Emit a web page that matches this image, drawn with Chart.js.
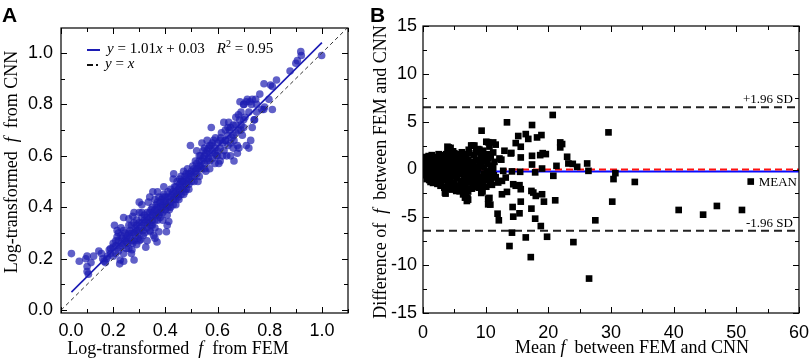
<!DOCTYPE html>
<html>
<head>
<meta charset="utf-8">
<script src="https://cdn.jsdelivr.net/npm/chart.js@4.4.0/dist/chart.umd.min.js"></script>
<style>
  html, body { margin: 0; padding: 0; background: #fff; }
  #wrap { position: relative; width: 809px; height: 361px; overflow: hidden; font-family: 'Liberation Serif', 'Times New Roman', serif; color: #000; }
  canvas { position: absolute; top: 0; }
  #chartA { left: 0; }
  #chartB { left: 365px; }
  .panel { position: absolute; font: bold 21px 'Liberation Sans', Arial, sans-serif; line-height: 21px; }
  .title { position: absolute; width: 340px; font-size: 18px; line-height: 20px; white-space: pre; text-align: center; }
  .rot { transform: rotate(-90deg); }
  .leg { position: absolute; font-size: 15px; line-height: 16px; white-space: pre; }
  .leg sup { font-size: 10px; line-height: 0; }
  .sw { display: inline-block; vertical-align: middle; margin-right: 7px; }
</style>
</head>
<body>
<div id="wrap">
  <canvas id="chartA" width="365" height="361"></canvas>
  <canvas id="chartB" width="453" height="361"></canvas>

  <div class="panel" style="left:2px; top:4px;">A</div>
  <div class="panel" style="left:370px; top:4px;">B</div>

  <div class="title" style="left:8px; top:338px;">Log-transformed  <i>f</i>  from FEM</div>
  <div class="title rot" style="left:-159px; top:152px;">Log-transformed  <i>f</i>  from CNN</div>
  <div class="title" style="left:462px; top:337px;">Mean <i>f</i>  between FEM and CNN</div>
  <div class="title rot" style="left:210px; top:162px;">Difference of  <i>f</i>  between FEM and CNN</div>

  <div class="leg" style="left:87px; top:40px;"><span class="sw" style="width:13px; border-top:2px solid #1c1cb4;"></span><i>y</i> = 1.01<i>x</i> + 0.03<span style="margin-left:12px;"><i>R</i><sup>2</sup> = 0.95</span></div>
  <div class="leg" style="left:87px; top:55px;"><span class="sw" style="width:6px; border-top:2px solid #111; margin-right:3px;"></span><span class="sw" style="width:2px; border-top:2px solid #111;"></span><i>y</i> = <i>x</i></div>
</div>

<script>
// Panel A: log-transformed f, [FEM, CNN]
const femCnnPairs = [
  [0.04,0.22],[0.07,0.19],[0.095,0.20],[0.10,0.21],[0.10,0.17],[0.10,0.15],[0.105,0.14],[0.115,0.185],[0.125,0.21],[0.145,0.23],
  [0.155,0.22],[0.165,0.19],[0.175,0.20],[0.178,0.21],[0.185,0.235],[0.19,0.24],[0.20,0.245],[0.16,0.20],[0.17,0.185],
  [0.205,0.33],[0.21,0.27],[0.215,0.285],[0.22,0.30],[0.215,0.31],[0.225,0.18],[0.227,0.195],[0.22,0.23],[0.21,0.25],[0.23,0.26],
  [0.24,0.22],[0.24,0.36],[0.235,0.25],[0.245,0.27],[0.25,0.265],[0.255,0.29],[0.26,0.355],[0.26,0.24],[0.265,0.31],[0.27,0.30],
  [0.272,0.235],[0.275,0.365],[0.28,0.195],[0.28,0.27],[0.285,0.32],[0.29,0.35],[0.29,0.255],[0.295,0.30],[0.30,0.42],[0.30,0.34],
  [0.20,0.26],[0.21,0.22],[0.225,0.245],[0.235,0.28],[0.245,0.30],[0.25,0.24],[0.255,0.26],[0.265,0.28],[0.27,0.33],[0.275,0.26],
  [0.28,0.30],[0.29,0.31],[0.295,0.28],[0.30,0.27],[0.30,0.38],
  [0.305,0.275],[0.31,0.41],[0.31,0.34],[0.315,0.31],[0.32,0.37],[0.32,0.35],[0.325,0.245],[0.33,0.32],[0.33,0.38],[0.335,0.42],
  [0.34,0.38],[0.34,0.34],[0.343,0.305],[0.345,0.36],[0.35,0.40],[0.35,0.37],[0.352,0.46],[0.355,0.29],[0.36,0.39],[0.36,0.35],
  [0.365,0.41],[0.368,0.265],[0.37,0.38],[0.37,0.42],[0.375,0.305],[0.375,0.44],[0.38,0.40],[0.38,0.36],[0.385,0.43],[0.39,0.41],
  [0.39,0.38],[0.394,0.48],[0.395,0.45],[0.40,0.42],[0.40,0.39],[0.31,0.36],[0.32,0.33],[0.33,0.36],[0.335,0.35],[0.345,0.39],
  [0.355,0.38],[0.365,0.37],[0.37,0.40],[0.38,0.42],[0.385,0.39],[0.39,0.44],[0.395,0.42],[0.36,0.43],[0.35,0.33],[0.39,0.35],
  [0.404,0.305],[0.407,0.33],[0.407,0.37],[0.41,0.44],[0.41,0.46],[0.413,0.345],[0.415,0.42],[0.42,0.47],[0.42,0.40],[0.425,0.45],
  [0.43,0.43],[0.432,0.53],[0.435,0.48],[0.44,0.46],[0.44,0.41],[0.445,0.50],[0.45,0.47],[0.452,0.43],[0.455,0.49],[0.46,0.52],
  [0.46,0.45],[0.465,0.50],[0.47,0.48],[0.47,0.54],[0.475,0.46],[0.48,0.51],[0.48,0.49],[0.485,0.55],[0.49,0.47],[0.49,0.51],
  [0.495,0.53],[0.496,0.64],[0.50,0.50],[0.42,0.44],[0.43,0.46],[0.445,0.45],[0.455,0.46],[0.46,0.48],[0.47,0.50],[0.475,0.52],
  [0.48,0.53],[0.49,0.49],[0.50,0.54],[0.415,0.39],[0.44,0.43],[0.465,0.47],[0.485,0.50],
  [0.505,0.56],[0.51,0.52],[0.51,0.55],[0.515,0.58],[0.52,0.53],[0.52,0.57],[0.525,0.50],[0.53,0.56],[0.53,0.60],[0.535,0.56],
  [0.535,0.60],[0.54,0.65],[0.54,0.58],[0.545,0.62],[0.55,0.57],[0.55,0.60],[0.555,0.54],[0.56,0.62],[0.56,0.66],[0.565,0.59],
  [0.57,0.61],[0.575,0.64],[0.576,0.71],[0.58,0.62],[0.58,0.59],[0.585,0.66],[0.59,0.63],[0.592,0.67],[0.595,0.60],[0.60,0.65],
  [0.515,0.54],[0.525,0.55],[0.545,0.59],[0.555,0.61],[0.565,0.63],[0.57,0.58],[0.59,0.61],[0.60,0.62],[0.55,0.63],[0.53,0.52],
  [0.605,0.57],[0.61,0.63],[0.612,0.67],[0.615,0.69],[0.62,0.65],[0.624,0.73],[0.63,0.66],[0.631,0.66],[0.635,0.60],[0.64,0.68],
  [0.643,0.73],[0.645,0.70],[0.65,0.71],[0.65,0.60],[0.655,0.67],[0.66,0.72],[0.663,0.66],[0.663,0.58],[0.67,0.69],[0.676,0.64],
  [0.676,0.61],[0.68,0.70],[0.682,0.63],[0.685,0.74],[0.69,0.72],[0.695,0.68],[0.70,0.80],[0.70,0.71],[0.625,0.62],[0.64,0.64],
  [0.66,0.68],[0.67,0.75],[0.69,0.70],
  [0.705,0.75],[0.71,0.81],[0.71,0.64],[0.714,0.82],[0.72,0.63],[0.724,0.81],[0.727,0.66],[0.733,0.82],[0.733,0.71],[0.74,0.74],
  [0.742,0.74],[0.746,0.82],[0.75,0.77],[0.762,0.84],[0.77,0.78],[0.777,0.78],[0.778,0.88],[0.78,0.79],[0.797,0.82],[0.803,0.875],
  [0.81,0.87],[0.81,0.78],[0.826,0.895],[0.878,0.93],[0.90,0.96],[0.906,0.97],[0.919,1.005],[0.921,0.99],[0.999,0.99],[0.686,0.81],
  [0.701,0.80],
  [0.22,0.27],[0.23,0.29],[0.24,0.31],[0.25,0.28],[0.26,0.30],[0.27,0.27],[0.28,0.34],[0.285,0.29],[0.29,0.33],[0.30,0.31],
  [0.31,0.32],[0.315,0.29],[0.32,0.30],[0.33,0.34],[0.34,0.31],[0.345,0.33],[0.35,0.35],[0.36,0.32],[0.37,0.35],[0.375,0.37],
  [0.38,0.38],[0.39,0.40],[0.40,0.44],[0.405,0.41],[0.41,0.40],[0.42,0.42],[0.43,0.41],[0.435,0.44],[0.44,0.48],[0.45,0.44],
  [0.455,0.51],[0.46,0.50],[0.47,0.45],[0.48,0.47],[0.49,0.53],[0.50,0.52],[0.51,0.50],[0.52,0.55],[0.53,0.58],[0.54,0.55],
  [0.55,0.55],[0.56,0.58],[0.57,0.64],[0.58,0.65],[0.59,0.57],[0.60,0.60],[0.61,0.66],[0.62,0.60],[0.63,0.70],[0.64,0.71],
  [0.65,0.65],[0.66,0.63],[0.67,0.72],[0.68,0.76],[0.69,0.77],[0.70,0.74],[0.72,0.77],[0.73,0.80],[0.75,0.80],[0.33,0.27],
  [0.36,0.28],[0.27,0.22],[0.24,0.19],[0.20,0.21],[0.19,0.22],[0.31,0.38],[0.28,0.38],[0.26,0.33],[0.23,0.32],[0.37,0.46],
  [0.34,0.44],[0.43,0.51],[0.52,0.62],[0.57,0.55],[0.61,0.58]
];
const fitLine = [[0.04, 0.07], [1.0, 1.04]];   // y = 1.01x + 0.03
const identityLine = [[0, 0], [1.1, 1.1]];     // y = x
const aTicks = [0, 0.2, 0.4, 0.6, 0.8, 1.0];

// Panel B: Bland-Altman, [mean f, difference]
const meanDiffPairs = [
  [0.3,0.2],[0.4,-0.3],[0.5,0.8],[0.5,-0.6],[0.6,0.1],[0.7,1.2],[0.7,-0.9],[0.8,0.5],[0.9,-0.2],[1.0,0.9],
  [1.0,-1.1],[1.1,0.3],[1.2,-0.5],[1.3,1.3],[1.3,0.0],[1.4,-0.8],[1.5,0.6],[1.6,-0.3],[1.7,1.0],[1.8,-1.2],
  [1.9,0.2],[2.0,0.7],[2.0,-0.6],[0.4,0.5],[0.6,-0.2],[0.9,0.3],[1.1,-0.4],[1.5,-0.1],[1.7,0.4],[0.8,-0.5],
  [2.1,1.3],[2.2,-0.2],[2.3,0.4],[2.4,-1.0],[2.5,1.1],[2.6,0.1],[2.7,-0.5],[2.8,0.8],[2.9,-1.4],[3.0,0.3],
  [3.1,1.4],[3.2,-0.8],[3.3,0.6],[3.4,-0.2],[3.5,1.0],[3.6,-1.1],[3.7,0.2],[3.8,-0.6],[3.9,1.7],[4.0,0.5],
  [4.0,-1.5],[2.4,0.6],[2.6,-1.2],[3.0,-0.3],[3.3,1.1],[3.6,0.7],[3.8,-1.8],[2.2,0.9],[3.2,0.0],[3.5,-0.5],
  [4.1,2.3],[4.2,-0.3],[4.3,0.9],[4.4,-1.0],[4.5,1.4],[4.6,-2.1],[4.7,0.2],[4.8,-0.7],[4.9,1.1],[5.0,-1.4],
  [5.1,0.6],[5.2,-0.1],[5.3,1.6],[5.4,-0.9],[5.5,0.3],[5.6,-1.7],[5.7,0.8],[5.8,-0.4],[5.9,1.2],[6.0,-1.2],
  [4.3,-1.6],[4.7,1.8],[5.0,0.0],[5.5,-2.2],[5.8,0.5],[4.5,0.4],[5.2,1.0],[6.0,0.2],
  [6.1,1.5],[6.2,-0.5],[6.3,0.7],[6.4,-2.6],[6.5,0.1],[6.6,-1.0],[6.7,1.3],[6.8,-1.8],[6.9,0.4],[7.0,-0.7],
  [7.1,-3.0],[7.2,1.0],[7.3,-1.3],[7.4,0.3],[7.5,-2.0],[7.6,0.8],[7.7,2.5],[7.8,-0.9],[7.9,-1.5],[8.0,0.6],
  [6.5,1.1],[7.0,0.6],[7.5,-0.2],[8.0,-1.7],[6.8,0.9],[7.3,0.1],
  [8.2,2.5],[8.3,-0.3],[8.5,1.0],[8.6,-1.2],[8.8,0.2],[8.9,-0.8],[9.0,0.7],[9.2,-1.7],[9.3,0.4],[9.5,-2.3],
  [9.6,1.4],[9.7,-0.5],[9.9,-1.1],[10.0,0.9],[10.2,-0.2],[10.4,1.2],[10.5,-0.9],[10.7,-1.3],[10.9,0.4],[11.1,-0.1],
  [11.3,-0.6],[11.6,-0.8],[8.4,-0.6],[9.1,1.9],[9.8,0.2],[10.6,2.4],[11.0,-1.6],
  [0.5,1.3],[0.6,-1.0],[0.9,1.4],[1.2,-1.3],[1.4,1.5],[1.6,-1.4],[2.3,-1.5],[2.5,1.6],[2.8,-1.7],[3.0,1.5],
  [3.4,-1.9],[3.7,1.6],[4.2,-2.0],[4.4,1.8],[4.8,-1.9],[5.0,1.7],[5.3,-2.0],[5.6,1.5],[6.0,-2.0],[6.2,1.8],
  [6.6,-2.2],[6.9,1.6],[7.2,-2.3],[7.4,1.7],[7.8,-2.0],[8.1,1.5],[8.3,-1.8],[8.6,1.8],[8.9,-1.9],[9.0,2.08],
  [8.5,2.0],[9.2,1.2],[9.4,-1.3],[9.7,1.0],[10.1,-1.8],[10.3,0.6],[10.5,-0.4],[10.8,1.38],[10.8,-1.0],[11.4,0.8],
  [11.6,2.6],[10.4,2.85],[8.0,2.5],[4.8,1.9],[4.4,2.26],[3.6,-2.52],[5.85,-2.28],[7.2,-3.15],[6.9,-2.8],[9.3,-2.45],
  [9.57,-1.75],[10.6,-2.97],[10.75,-3.67],[12.5,1.03],[14.1,1.73],[6.4,-1.4],[6.7,-0.3],[7.1,0.0],[7.7,-0.5],[8.2,-1.0],
  [8.7,-0.3],[9.4,0.9],[9.9,-0.6],[10.2,1.6],[11.2,0.2],[8.1,0.3],[6.3,0.0],[5.4,0.5],[4.9,-0.4],[3.8,0.4],
  [2.5,-0.1],[1.2,0.7],
  [20.7,5.7],[13.4,4.93],[9.35,4.06],[29.6,3.88],[17.4,4.65],[16.4,3.7],[15.2,3.5],[16.8,3.2],[18.2,3.35],[18.9,3.6],
  [14.8,2.76],[15.6,2.38],[11.2,2.83],[10.1,2.9],[9.6,1.96],[8.8,2.13],[7.7,2.48],[7.3,2.06],[3.9,2.38],[21.9,2.83],
  [22.2,2.66],[21.9,2.31],[13.0,1.96],[11.2,1.78],[14.0,1.68],[15.6,1.26],[17.4,1.43],[18.7,1.5],[19.1,1.71],[19.6,1.61],
  [12.2,1.15],[23.0,1.33],[17.4,0.52],[19.0,0.1],[21.3,0.38],[23.2,0.63],[23.9,0.59],[24.6,0.28],[26.2,0.63],[26.4,-0.14],
  [30.7,-0.38],[30.4,-1.0],[33.8,-1.3],[52.3,-1.26],[20.8,-0.66],[15.5,-0.24],[14.2,-0.2],[12.8,-0.14],[17.9,-0.3],[13.2,-0.84],
  [12.6,-1.19],[12.0,-1.36],[11.2,-0.84],[14.4,-1.54],[14.8,-1.7],[15.4,-1.64],[15.6,-2.06],[13.4,-2.34],[12.6,-2.59],[17.3,-2.24],
  [17.6,-2.41],[18.0,-2.76],[19.0,-2.59],[19.3,-3.36],[21.1,-3.22],[15.6,-3.36],[30.2,-3.36],[10.4,-3.04],[10.4,-3.64],[7.0,-3.29],
  [6.7,-2.94],[3.5,-2.41],[5.3,-2.24],[14.3,-3.92],[15.4,-4.58],[14.4,-4.93],[11.9,-4.62],[12.1,-5.31],[17.3,-4.09],[17.9,-5.14],
  [18.8,-5.91],[14.2,-6.6],[16.4,-7.1],[19.8,-7.03],[13.8,-8.0],[17.2,-9.16],[24.0,-7.59],[26.5,-11.4],[27.5,-5.31],[40.8,-4.23],
  [44.7,-4.72],[46.9,-3.81],[50.9,-4.23]
];
const meanDiff = -0.2;
const zeroDiff = 0;
const upperSd = 6.5;
const lowerSd = -6.4;
const bXTicks = [0, 10, 20, 30, 40, 50, 60];
const bYTicks = [-15, -10, -5, 0, 5, 10, 15];

const toXY = pairs => pairs.map(p => ({ x: p[0], y: p[1] }));
const tickFont = { family: "'Liberation Sans', Arial, sans-serif", size: 18 };

// frame on four sides with inward major/minor ticks
const frameTicks = {
  id: 'frameTicks',
  afterDraw(chart, args, opts) {
    const { ctx, chartArea: a, scales: { x, y } } = chart;
    ctx.save();
    ctx.strokeStyle = '#000';
    ctx.lineWidth = 1.2;
    ctx.strokeRect(a.left, a.top, a.right - a.left, a.bottom - a.top);
    ctx.lineWidth = 1;
    ctx.beginPath();
    for (let i = Math.ceil(x.min / opts.xStep); i * opts.xStep <= x.max + 1e-9; i++) {
      const px = Math.round(x.getPixelForValue(i * opts.xStep)) + 0.5;
      const len = i % 2 === 0 ? 6 : 4;
      ctx.moveTo(px, a.bottom); ctx.lineTo(px, a.bottom - len);
      ctx.moveTo(px, a.top); ctx.lineTo(px, a.top + len);
    }
    for (let i = Math.ceil(y.min / opts.yStep); i * opts.yStep <= y.max + 1e-9; i++) {
      const py = Math.round(y.getPixelForValue(i * opts.yStep)) + 0.5;
      const len = i % 2 === 0 ? 6 : 4;
      ctx.moveTo(a.left, py); ctx.lineTo(a.left + len, py);
      ctx.moveTo(a.right, py); ctx.lineTo(a.right - len, py);
    }
    ctx.stroke();
    ctx.restore();
  }
};

// SD / MEAN labels for panel B
const sdLabels = {
  id: 'sdLabels',
  afterDatasetsDraw(chart) {
    const { ctx, chartArea: a, scales: { y } } = chart;
    ctx.save();
    ctx.font = "13px 'Liberation Serif', 'Times New Roman', serif";
    ctx.fillStyle = '#000';
    ctx.textAlign = 'right';
    ctx.textBaseline = 'alphabetic';
    ctx.fillText('+1.96 SD', a.right - 6, y.getPixelForValue(upperSd) - 4);
    ctx.fillText('-1.96 SD', a.right - 6, y.getPixelForValue(lowerSd) - 4);
    ctx.fillText('MEAN', a.right - 2, y.getPixelForValue(meanDiff) + 15);
    ctx.restore();
  }
};

const chartA = new Chart(document.getElementById('chartA'), {
  type: 'scatter',
  data: {
    datasets: [
      {
        data: toXY(fitLine), showLine: true, borderColor: '#1c1cb4', borderWidth: 1.6,
        pointRadius: 0, order: 0
      },
      {
        data: toXY(identityLine), showLine: true, borderColor: '#333', borderWidth: 1,
        borderDash: [4, 3], pointRadius: 0, order: 0
      },
      {
        data: toXY(femCnnPairs), backgroundColor: 'rgba(28,28,176,0.7)', borderWidth: 0,
        pointRadius: 3.8, order: 1
      }
    ]
  },
  options: {
    responsive: false,
    animation: false,
    layout: { padding: { left: 0, top: 28, right: 17, bottom: 0 } },
    plugins: { legend: { display: false }, tooltip: { enabled: false }, frameTicks: { xStep: 0.1, yStep: 0.1 } },
    scales: {
      x: {
        type: 'linear', min: 0, max: 1.1,
        afterBuildTicks: s => { s.ticks = aTicks.map(v => ({ value: v })); },
        afterFit: s => { s.height = 48; },
        grid: { display: false, drawTicks: false },
        border: { display: false },
        ticks: { font: tickFont, color: '#000', padding: 7, maxRotation: 0,
                 callback: v => v === 0 ? '    0.0' : v.toFixed(1) }
      },
      y: {
        type: 'linear', min: -0.011, max: 1.097,
        afterBuildTicks: s => { s.ticks = aTicks.map(v => ({ value: v })); },
        afterFit: s => { s.width = 61; },
        grid: { display: false, drawTicks: false },
        border: { display: false },
        ticks: { font: tickFont, color: '#000', padding: 8, callback: v => v.toFixed(1) }
      }
    }
  },
  plugins: [frameTicks]
});

const hLine = v => [{ x: 0, y: v }, { x: 60, y: v }];

const chartB = new Chart(document.getElementById('chartB'), {
  type: 'scatter',
  data: {
    datasets: [
      {
        data: toXY(meanDiffPairs), pointStyle: 'rect', backgroundColor: '#000', borderWidth: 0,
        pointRadius: 4.7, order: 0
      },
      { data: hLine(zeroDiff), showLine: true, borderColor: '#ff1010', borderWidth: 2, borderDash: [7, 4], pointRadius: 0, order: 1 },
      { data: hLine(meanDiff), showLine: true, borderColor: '#0a0aff', borderWidth: 2, pointRadius: 0, order: 2 },
      { data: hLine(upperSd), showLine: true, borderColor: '#222', borderWidth: 2, borderDash: [8, 5], pointRadius: 0, order: 1 },
      { data: hLine(lowerSd), showLine: true, borderColor: '#222', borderWidth: 2, borderDash: [8, 5], pointRadius: 0, order: 1 }
    ]
  },
  options: {
    responsive: false,
    animation: false,
    layout: { padding: { left: 0, top: 26, right: 10, bottom: 0 } },
    plugins: { legend: { display: false }, tooltip: { enabled: false }, frameTicks: { xStep: 5, yStep: 2.5 } },
    scales: {
      x: {
        type: 'linear', min: 0, max: 60,
        afterBuildTicks: s => { s.ticks = bXTicks.map(v => ({ value: v })); },
        afterFit: s => { s.height = 48; },
        grid: { display: false, drawTicks: false },
        border: { display: false },
        ticks: { font: tickFont, color: '#000', padding: 9, maxRotation: 0, callback: v => String(v) }
      },
      y: {
        type: 'linear', min: -15, max: 15,
        afterBuildTicks: s => { s.ticks = bYTicks.map(v => ({ value: v })); },
        afterFit: s => { s.width = 58; },
        grid: { display: false, drawTicks: false },
        border: { display: false },
        ticks: { font: tickFont, color: '#000', padding: 6, callback: v => String(v) }
      }
    }
  },
  plugins: [frameTicks, sdLabels]
});
</script>
</body>
</html>
